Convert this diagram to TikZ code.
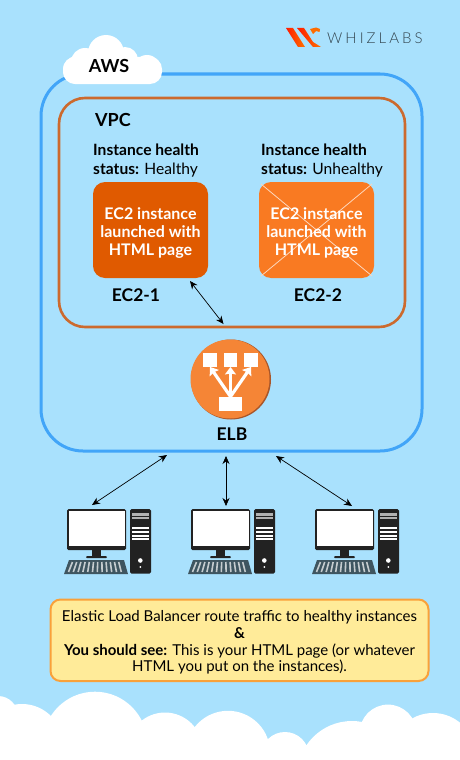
\documentclass[tikz,border=0pt]{standalone}
\usepackage{fontspec}
\setmainfont{Lato}
\newfontfamily\logofont[LetterSpace=20]{Lato Light}
\usetikzlibrary{arrows.meta}
\definecolor{skybg}{HTML}{A9E1FD}
\definecolor{awsblue}{HTML}{42A5F8}
\definecolor{vpcline}{HTML}{CC6A2E}
\definecolor{ecdark}{HTML}{E05A00}
\definecolor{eclight}{HTML}{F97A22}
\definecolor{elbfill}{HTML}{F58536}
\definecolor{elbdark}{HTML}{A8562A}
\definecolor{notefill}{HTML}{FFEB99}
\definecolor{noteline}{HTML}{F9A13A}
\definecolor{pcdark}{HTML}{222222}
\definecolor{keyb}{HTML}{3E5560}
\definecolor{logotxt}{HTML}{33454F}
\tikzset{
 x=1pt,y=-1pt,
 ectext/.style={inner sep=0pt,text=white,font=\fontsize{16}{18}\selectfont\bfseries,align=center},
 lbl/.style={inner sep=0pt,align=left,anchor=north west,font=\fontsize{15.6}{19}\selectfont},
 head/.style={inner sep=0pt,font=\fontsize{17.5}{20}\selectfont\bfseries},
 link/.style={{Stealth[length=8pt,width=7pt]}-{Stealth[length=8pt,width=7pt]},line width=0.7pt,black},
 elbarrow/.style={white,line width=3.2pt,-{Stealth[length=7.5pt,width=11pt,inset=1pt]}},
 pics/pc/.style={code={
  \fill[pcdark,rounded corners=1.5pt] (67,509) rectangle (126,550);
  \fill[white] (68.5,511) rectangle (124.5,545.5);
  \fill[pcdark] (92,550) rectangle (101,556);
  \fill[pcdark,rounded corners=1pt] (86,556) rectangle (107,558);
  \fill[pcdark,rounded corners=1.5pt] (130,509) rectangle (151,573.5);
  \fill[black!30] (132,513) rectangle (149,516);\fill[black!30] (132,517) rectangle (149,518.5);
  \foreach \yy in {527,531,535,538}{\fill[white] (132,\yy) rectangle (149,\yy+2.2);}
  \fill[white] (140.3,560.5) circle (2.3pt);\fill[white] (140.3,567) circle (1pt);
  \fill[keyb] (69,560) -- (124,560) -- (128,574) -- (64,574) -- cycle;
  \foreach \kk in {0,1,...,11}{\draw[white!70!keyb,line width=1.6pt] ({72.5+\kk*4.2},562) -- ({68.5+\kk*4.8},572);}
 }}
}
\begin{document}
\begin{tikzpicture}
\useasboundingbox (0,0) rectangle (460,760);
\fill[skybg] (0,0) rectangle (460,760);
% bottom clouds
\fill[white] (0,745) rectangle (460,760);
\foreach \cx/\cy/\r in {-2/716/20,22/745/41,95/744/52.3,165/750/37.5,228/753/42.2,285/756/24,352/776/55,388/733/28.4,433/755.5/42.5}{\fill[white] (\cx,\cy) circle (\r pt);}
% logo
\shade[left color=red!80!orange,right color=orange!90!red] (286,28) -- (293,28) -- (305,47) -- (298,47) -- cycle;
\shade[left color=red!80!orange,right color=orange!90!red] (297,28) -- (304,28) -- (313,42) -- (321,47) -- (313,47) -- cycle;
\fill[orange!85!red] (310,29) -- (316,27.5) -- (320,29) -- (319.5,32) -- (316,31) -- (313,34) -- cycle;
\node[inner sep=0pt,anchor=west,text=logotxt,font=\logofont\fontsize{15}{16}\selectfont] (logo) at (327,38.5) {WHIZLABS};
% AWS frame
\draw[awsblue,line width=3pt,rounded corners=42pt] (41,74) rectangle (422,451);
% AWS cloud
\fill[white,rounded corners=12pt] (63,57) rectangle (162,84);
\fill[white] (106,53) circle (18pt) (85,62) circle (14pt) (125,60) circle (13pt) (147,69) circle (14pt) (77,70) circle (14pt);
\node[inner sep=0pt,font=\fontsize{18}{20}\selectfont\bfseries] (aws) at (109,65.5) {AWS};
% VPC
\draw[vpcline,line width=2.6pt,rounded corners=26pt] (59,98) rectangle (405,327);
\node[inner sep=0pt,font=\fontsize{18}{20}\selectfont\bfseries] (vpc) at (113,120) {VPC};
\node[lbl] (s1) at (93,144) {\textbf{Instance health}\\\textbf{status:} Healthy};
\node[lbl] (s2) at (261,144) {\textbf{Instance health}\\\textbf{status:} Unhealthy};
\fill[ecdark,rounded corners=12pt] (93,182) rectangle (208,278);
\node[ectext] (ec1) at (150.5,233) {EC2 instance\\launched with\\HTML page};
\fill[eclight,rounded corners=12pt] (259,182) rectangle (374,278);
\draw[white!70!eclight,line width=0.8pt] (261,184) -- (372,276) (372,184) -- (261,276);
\node[ectext] (ec2) at (316.5,233) {EC2 instance\\launched with\\HTML page};
\node[head] (n1) at (136,295) {EC2-1};
\node[head] (n2) at (318,295) {EC2-2};
% ELB
\fill[elbdark] (231,379.5) circle (40pt);
\node[circle,fill=elbfill,minimum size=79pt,inner sep=0pt] (elb) at (230,379) {};
\node[fill=white,minimum width=23pt,minimum height=14.5pt,inner sep=0pt] (b0) at (230.5,404) {};
\node[fill=white,minimum width=13.5pt,minimum height=13.5pt,inner sep=0pt] (b1) at (210,360) {};
\node[fill=white,minimum width=13.5pt,minimum height=13.5pt,inner sep=0pt] (b2) at (230.5,360) {};
\node[fill=white,minimum width=13.5pt,minimum height=13.5pt,inner sep=0pt] (b3) at (251,360) {};
\draw[elbarrow] (b0.north) -- (b1.south);
\draw[elbarrow] (b0.north) -- (b2.south);
\draw[elbarrow] (b0.north) -- (b3.south);
\node[head] (elbl) at (232,434) {ELB};
% computers
\pic (pca) at (0,0) {pc};
\pic (pcb) at (124,0) {pc};
\pic (pcc) at (248,0) {pc};
% connectors
\coordinate (c1a) at (190,281); \coordinate (c1b) at (223.5,324);
\draw[link] (c1a) -- (c1b);
\coordinate (a1) at (167,455); \coordinate (a2) at (92,505);
\coordinate (b1p) at (226,456); \coordinate (b2p) at (226,506);
\coordinate (d1) at (276,456); \coordinate (d2) at (352,506);
\draw[link] (a1) -- (a2);
\draw[link] (b1p) -- (b2p);
\draw[link] (d1) -- (d2);
% note
\draw[noteline,fill=notefill,line width=2pt,rounded corners=10pt] (50.5,599.5) rectangle (428.5,681);
\node[inner sep=0pt,align=center,font=\fontsize{15}{16.8}\selectfont] (note) at (239.5,642.5) {Elastic Load Balancer route traffic to healthy instances\\\textbf{\&}\\\textbf{You should see:} This is your HTML page (or whatever\\HTML you put on the instances).};
\end{tikzpicture}
\end{document}
